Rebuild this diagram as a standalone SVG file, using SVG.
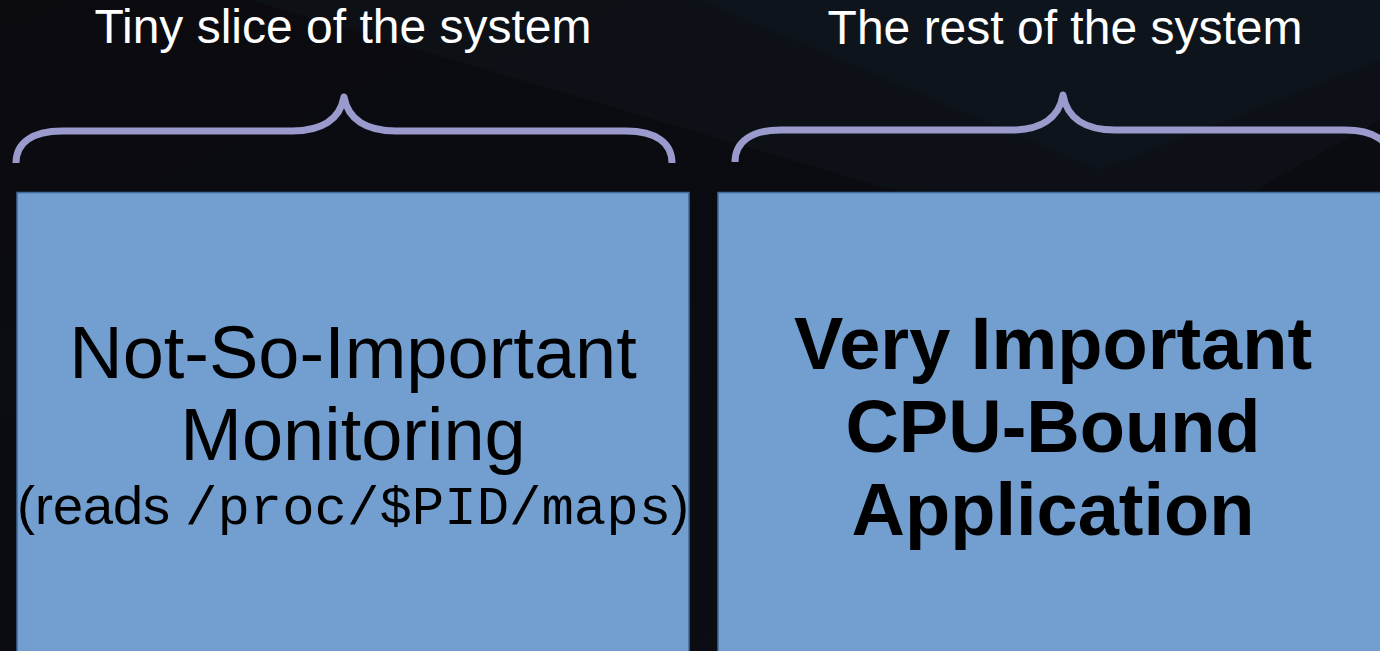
<svg xmlns="http://www.w3.org/2000/svg" width="1380" height="651" viewBox="0 0 1380 651">
  <defs>
    <style>
      .title { font-family: "Liberation Sans", Arial, sans-serif; font-size: 48px; fill: #ffffff; text-anchor: middle; }
      .brace { fill: none; stroke: #9a9acc; stroke-width: 7; stroke-linecap: butt; stroke-linejoin: round; }
      .box { fill: #729fcf; stroke: #41699c; stroke-width: 1.5; }
      .lbl { font-family: "Liberation Sans", Arial, sans-serif; font-size: 74px; fill: #000000; text-anchor: middle; }
      .bold { font-weight: bold; }
      .small { font-size: 54px; }
      .mono { font-family: "Liberation Mono", "Courier New", monospace; font-size: 54px; }
    </style>
    <linearGradient id="bg" x1="0" y1="0" x2="1" y2="1">
      <stop offset="0" stop-color="#0b0b10"/>
      <stop offset="1" stop-color="#0a0d12"/>
    </linearGradient>
  </defs>

  <rect x="0" y="0" width="1380" height="651" fill="url(#bg)"/>
  <!-- subtle background facets -->
  <polygon points="250,0 1380,0 1380,120 1130,260" fill="#0e1419" opacity="0.7"/>
  <polygon points="700,0 1380,0 1380,60 1100,170" fill="#101820" opacity="0.5"/>
  <polygon points="0,330 700,200 0,420" fill="#0c0f14" opacity="0.6"/>

  <g id="title-left">
    <text class="title" x="343" y="43">Tiny slice of the system</text>
  </g>
  <g id="title-right">
    <text class="title" x="1065" y="44">The rest of the system</text>
  </g>

  <g id="brace-left">
    <path class="brace" d="M16,163 C16,143 32,131 62,131 L292,131 C322,131 340,119 344,97 C348,119 366,131 396,131 L626,131 C656,131 672,143 672,163"/>
  </g>
  <g id="brace-right">
    <path class="brace" d="M735,162 C735,142 751,130 781,130 L1011,130 C1041,130 1059,118 1063,95 C1067,118 1085,130 1115,130 L1345,130 C1375,130 1391,142 1391,162"/>
  </g>

  <g id="node-monitoring">
    <rect class="box" x="17" y="192.5" width="672" height="470"/>
    <text class="lbl" x="353" y="378">Not-So-Important</text>
    <text class="lbl" x="353" y="460">Monitoring</text>
    <text class="lbl small" x="353" y="524">(reads <tspan class="mono">/proc/$PID/maps</tspan>)</text>
  </g>

  <g id="node-application">
    <rect class="box" x="718" y="192.5" width="680" height="470"/>
    <text class="lbl bold" x="1053" y="369">Very Important</text>
    <text class="lbl bold" x="1053" y="452">CPU-Bound</text>
    <text class="lbl bold" x="1053" y="535">Application</text>
  </g>

  <g id="connectors"/>
</svg>
